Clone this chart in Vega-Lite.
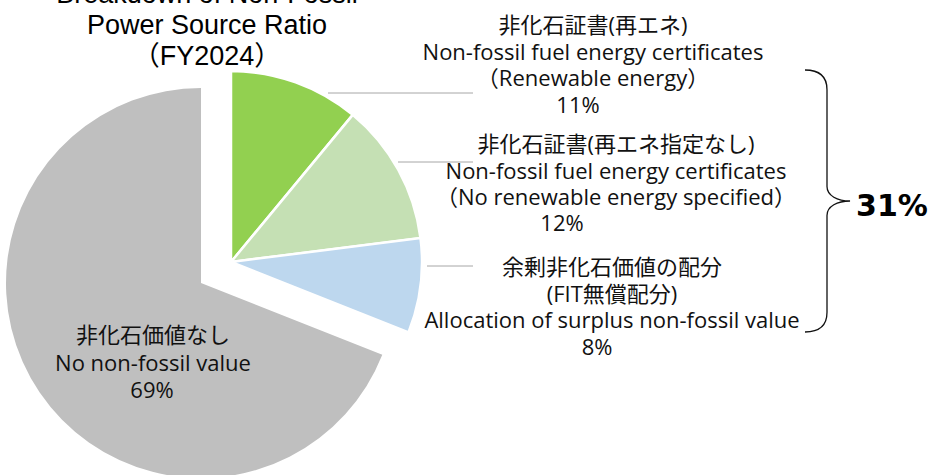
{
  "$schema": "https://vega.github.io/schema/vega-lite/v6.json",
  "width": 931,
  "height": 475,
  "autosize": "none",
  "padding": 0,
  "background": "white",
  "config": {"view": {"stroke": null}},
  "data": {
    "values": [
      {"category": "renewable", "label": "非化石証書(再エネ)\nNon-fossil fuel energy certificates\n（Renewable energy）", "share": 0.11, "order": 1},
      {"category": "nonrenewable", "label": "非化石証書(再エネ指定なし)\nNon-fossil fuel energy certificates\n（No renewable energy specified）", "share": 0.12, "order": 2},
      {"category": "fit", "label": "余剰非化石価値の配分\n(FIT無償配分)\nAllocation of surplus non-fossil value", "share": 0.08, "order": 3},
      {"category": "none", "label": "非化石価値なし\nNo non-fossil value", "share": 0.69, "order": 4}
    ]
  },
  "transform": [
    {"stack": "share", "groupby": [], "sort": [{"field": "order", "order": "ascending"}], "as": ["start", "end"]}
  ],
  "layer": [
    {
      "transform": [{"filter": "datum.category !== 'none'"}],
      "mark": {"type": "arc", "x": 231, "y": 262, "radius": 191, "stroke": "white", "strokeWidth": 2.5},
      "encoding": {
        "theta": {"field": "start", "type": "quantitative", "scale": {"domain": [0, 1]}},
        "theta2": {"field": "end"},
        "color": {"field": "category", "type": "nominal", "scale": {"domain": ["renewable", "nonrenewable", "fit", "none"], "range": ["#92D050", "#C5E0B4", "#BDD7EE", "#BFBFBF"]}, "legend": null}
      }
    },
    {
      "transform": [{"filter": "datum.category === 'none'"}],
      "mark": {"type": "arc", "x": 201, "y": 283, "radius": 195},
      "encoding": {
        "theta": {"field": "start", "type": "quantitative", "scale": {"domain": [0, 1]}},
        "theta2": {"field": "end"},
        "color": {"field": "category", "type": "nominal", "legend": null}
      }
    },
    {
      "transform": [{"filter": "datum.category === 'renewable'"}],
      "mark": {"type": "rule", "color": "#A6A6A6", "strokeWidth": 1},
      "encoding": {"x": {"value": 328}, "x2": {"value": 473}, "y": {"value": 93}}
    },
    {
      "transform": [{"filter": "datum.category === 'nonrenewable'"}],
      "mark": {"type": "rule", "color": "#A6A6A6", "strokeWidth": 1},
      "encoding": {"x": {"value": 398}, "x2": {"value": 473}, "y": {"value": 162}}
    },
    {
      "transform": [{"filter": "datum.category === 'fit'"}],
      "mark": {"type": "rule", "color": "#A6A6A6", "strokeWidth": 1},
      "encoding": {"x": {"value": 427}, "x2": {"value": 473}, "y": {"value": 266}}
    },
    {
      "transform": [{"filter": "datum.category === 'renewable'"}],
      "mark": {"type": "text", "x": 593, "y": 26, "align": "center", "baseline": "middle", "lineBreak": "\n", "lineHeight": 26.5, "font": "Open Sans, Noto Sans CJK JP", "fontSize": 22, "color": "#111111"},
      "encoding": {"text": {"field": "label", "type": "nominal"}}
    },
    {
      "transform": [{"filter": "datum.category === 'renewable'"}],
      "mark": {"type": "text", "x": 578, "y": 106, "align": "center", "baseline": "middle", "font": "Open Sans", "fontSize": 22, "color": "#111111"},
      "encoding": {"text": {"field": "share", "type": "quantitative", "format": ".0%"}}
    },
    {
      "transform": [{"filter": "datum.category === 'nonrenewable'"}],
      "mark": {"type": "text", "x": 616, "y": 145, "align": "center", "baseline": "middle", "lineBreak": "\n", "lineHeight": 26.5, "font": "Open Sans, Noto Sans CJK JP", "fontSize": 22, "color": "#111111"},
      "encoding": {"text": {"field": "label", "type": "nominal"}}
    },
    {
      "transform": [{"filter": "datum.category === 'nonrenewable'"}],
      "mark": {"type": "text", "x": 562, "y": 224, "align": "center", "baseline": "middle", "font": "Open Sans", "fontSize": 22, "color": "#111111"},
      "encoding": {"text": {"field": "share", "type": "quantitative", "format": ".0%"}}
    },
    {
      "transform": [{"filter": "datum.category === 'fit'"}],
      "mark": {"type": "text", "x": 612, "y": 268, "align": "center", "baseline": "middle", "lineBreak": "\n", "lineHeight": 26.5, "font": "Open Sans, Noto Sans CJK JP", "fontSize": 22, "color": "#111111"},
      "encoding": {"text": {"field": "label", "type": "nominal"}}
    },
    {
      "transform": [{"filter": "datum.category === 'fit'"}],
      "mark": {"type": "text", "x": 597, "y": 348, "align": "center", "baseline": "middle", "font": "Open Sans", "fontSize": 22, "color": "#111111"},
      "encoding": {"text": {"field": "share", "type": "quantitative", "format": ".0%"}}
    },
    {
      "transform": [{"filter": "datum.category === 'none'"}],
      "mark": {"type": "text", "x": 153, "y": 336, "align": "center", "baseline": "middle", "lineBreak": "\n", "lineHeight": 28, "font": "Open Sans, Noto Sans CJK JP", "fontSize": 22, "color": "#111111"},
      "encoding": {"text": {"field": "label", "type": "nominal"}}
    },
    {
      "transform": [{"filter": "datum.category === 'none'"}],
      "mark": {"type": "text", "x": 152, "y": 391, "align": "center", "baseline": "middle", "font": "Open Sans", "fontSize": 22, "color": "#111111"},
      "encoding": {"text": {"field": "share", "type": "quantitative", "format": ".0%"}}
    },
    {
      "transform": [
        {"filter": "datum.category !== 'none'"},
        {"aggregate": [{"op": "sum", "field": "share", "as": "total"}]}
      ],
      "layer": [
        {
          "mark": {"type": "point", "x": 827, "y": 201, "size": 68644, "filled": false, "stroke": "#111111", "strokeWidth": 1.3, "opacity": 1,
            "shape": "M-0.168,-1 C-0.06,-1 0,-0.95 0,-0.85 L0,-0.11 C0,-0.04 0.08,0 0.176,0 C0.08,0 0,0.04 0,0.11 L0,0.85 C0,0.95 -0.06,1 -0.168,1"},
          "encoding": {}
        },
        {
          "mark": {"type": "text", "x": 892, "y": 207, "align": "center", "baseline": "middle", "font": "DejaVu Sans", "fontWeight": "bold", "fontSize": 30, "color": "#000000"},
          "encoding": {"text": {"field": "total", "type": "quantitative", "format": ".0%"}}
        }
      ]
    },
    {
      "data": {"values": [{"title": "Breakdown of Non-Fossil\nPower Source Ratio\n（FY2024）"}]},
      "mark": {"type": "text", "x": 207, "y": -5, "align": "center", "baseline": "middle", "lineBreak": "\n", "lineHeight": 31, "font": "Liberation Sans, Noto Sans CJK JP", "fontSize": 27, "color": "#000000"},
      "encoding": {"text": {"field": "title", "type": "nominal"}}
    }
  ]
}
